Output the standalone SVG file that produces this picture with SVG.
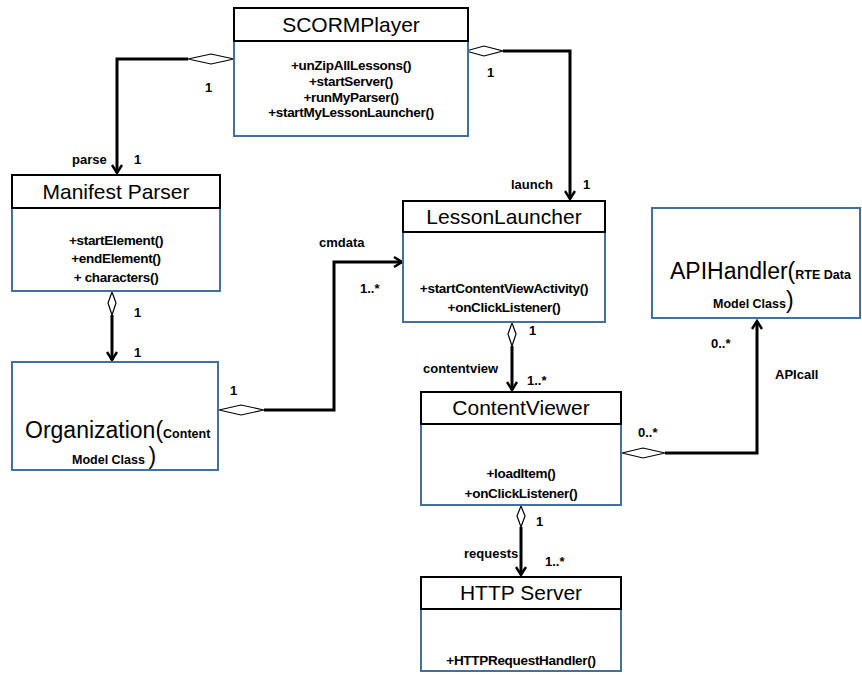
<svg xmlns="http://www.w3.org/2000/svg" width="862" height="675" viewBox="0 0 862 675">
  <defs>
    <marker id="open-arrow" viewBox="0 0 12 12" refX="10" refY="6" markerWidth="12" markerHeight="12" markerUnits="userSpaceOnUse" orient="auto">
      <path d="M2,1 L10,6 L2,11" fill="none" stroke="#000" stroke-width="2.4"/>
    </marker>
  </defs>
  <style>
    .head { fill: #fff; stroke: #000; stroke-width: 2; }
    .body { fill: #fff; stroke: #41719c; stroke-width: 2; }
    .title { font-family: "Liberation Sans", Arial, sans-serif; font-size: 21px; text-anchor: middle; fill: #000; }
    .op { font-family: "Liberation Sans", Arial, sans-serif; font-size: 13.5px; font-weight: bold; text-anchor: middle; fill: #000; letter-spacing: -0.3px; }
    .lbl { font-family: "Liberation Sans", Arial, sans-serif; font-size: 13px; font-weight: bold; fill: #000; }
    .big { font-family: "Liberation Sans", Arial, sans-serif; font-size: 23px; fill: #000; }
    .small { font-family: "Liberation Sans", Arial, sans-serif; font-size: 12.5px; font-weight: bold; fill: #000; }
    .line { fill: none; stroke: #000; stroke-width: 3; }
    .dia { fill: #fff; stroke: #000; stroke-width: 1.2; }
  </style>
  <rect width="862" height="675" fill="#fff"/>

  <!-- connectors -->
  <g id="connectors">
    <!-- SCORMPlayer to Manifest Parser -->
    <path class="line" d="M188,59 H117 V173" marker-end="url(#open-arrow)"/>
    <polygon class="dia" points="234,59 211,64 188,59 211,54"/>
    <text class="lbl" x="205" y="92">1</text>
    <text class="lbl" x="72" y="164">parse</text>
    <text class="lbl" x="134" y="164">1</text>

    <!-- SCORMPlayer to LessonLauncher -->
    <path class="line" d="M503,51 H570 V199" marker-end="url(#open-arrow)"/>
    <polygon class="dia" points="466,51 484,46 503,51 484,56"/>
    <text class="lbl" x="487" y="77">1</text>
    <text class="lbl" x="511" y="189">launch</text>
    <text class="lbl" x="583" y="189">1</text>

    <!-- Manifest Parser to Organization -->
    <path class="line" d="M112,315 V360" marker-end="url(#open-arrow)"/>
    <polygon class="dia" points="112,292 116,303 112,315 108,303"/>
    <text class="lbl" x="134" y="317">1</text>
    <text class="lbl" x="134" y="357">1</text>

    <!-- Organization to LessonLauncher -->
    <path class="line" d="M264,410 H334 V262 H402" marker-end="url(#open-arrow)"/>
    <polygon class="dia" points="219,410 241,405 264,410 241,415"/>
    <text class="lbl" x="230" y="395">1</text>
    <text class="lbl" x="319" y="247">cmdata</text>
    <text class="lbl" x="360" y="293">1..*</text>

    <!-- LessonLauncher to ContentViewer -->
    <path class="line" d="M512,346 V390" marker-end="url(#open-arrow)"/>
    <polygon class="dia" points="512,323 516,334 512,346 508,334"/>
    <text class="lbl" x="529" y="335">1</text>
    <text class="lbl" x="423" y="373">contentview</text>
    <text class="lbl" x="527" y="385">1..*</text>

    <!-- ContentViewer to HTTP Server -->
    <path class="line" d="M521,527 V575" marker-end="url(#open-arrow)"/>
    <polygon class="dia" points="521,506 525,516 521,527 517,516"/>
    <text class="lbl" x="536" y="526">1</text>
    <text class="lbl" x="464" y="558">requests</text>
    <text class="lbl" x="545" y="566">1..*</text>

    <!-- ContentViewer to APIHandler -->
    <path class="line" d="M665,453 H757 V321" marker-end="url(#open-arrow)"/>
    <polygon class="dia" points="622,453 643,448 665,453 643,458"/>
    <text class="lbl" x="638" y="437">0..*</text>
    <text class="lbl" x="711" y="348">0..*</text>
    <text class="lbl" x="775" y="379">APIcall</text>
  </g>

  <!-- SCORMPlayer -->
  <g id="scormplayer">
    <rect class="body" x="234" y="41" width="234" height="95"/>
    <rect class="head" x="234" y="8" width="234" height="33"/>
    <text class="title" x="351" y="32">SCORMPlayer</text>
    <text class="op" x="351" y="70">+unZipAllLessons()</text>
    <text class="op" x="351" y="86">+startServer()</text>
    <text class="op" x="351" y="102">+runMyParser()</text>
    <text class="op" x="351" y="117">+startMyLessonLauncher()</text>
  </g>

  <!-- Manifest Parser -->
  <g id="manifest-parser">
    <rect class="body" x="12" y="208" width="208" height="83"/>
    <rect class="head" x="12" y="175" width="208" height="33"/>
    <text class="title" x="116" y="199">Manifest Parser</text>
    <text class="op" x="116" y="245">+startElement()</text>
    <text class="op" x="116" y="263">+endElement()</text>
    <text class="op" x="116" y="282">+ characters()</text>
  </g>

  <!-- Organization -->
  <g id="organization">
    <rect class="body" x="12" y="362" width="206" height="108"/>
    <text x="25" y="438"><tspan class="big">Organization(</tspan><tspan class="small">Content</tspan></text>
    <text x="72" y="464"><tspan class="small">Model Class </tspan><tspan class="big" font-size="21">)</tspan></text>
  </g>

  <!-- LessonLauncher -->
  <g id="lesson-launcher">
    <rect class="body" x="403" y="232" width="202" height="90"/>
    <rect class="head" x="403" y="201" width="202" height="31"/>
    <text class="title" x="504" y="224">LessonLauncher</text>
    <text class="op" x="504" y="293">+startContentViewActivity()</text>
    <text class="op" x="504" y="312">+onClickListener()</text>
  </g>

  <!-- APIHandler -->
  <g id="api-handler">
    <rect class="body" x="652" y="208" width="208" height="110"/>
    <text x="670" y="279"><tspan class="big">APIHandler(</tspan><tspan class="small" font-size="11.5">RTE Data</tspan></text>
    <text x="713" y="308"><tspan class="small">Model Class</tspan><tspan class="big" font-size="21">)</tspan></text>
  </g>

  <!-- ContentViewer -->
  <g id="content-viewer">
    <rect class="body" x="421" y="424" width="200" height="81"/>
    <rect class="head" x="421" y="392" width="200" height="32"/>
    <text class="title" x="521" y="415">ContentViewer</text>
    <text class="op" x="521" y="478">+loadItem()</text>
    <text class="op" x="521" y="498">+onClickListener()</text>
  </g>

  <!-- HTTP Server -->
  <g id="http-server">
    <rect class="body" x="421" y="609" width="200" height="62"/>
    <rect class="head" x="421" y="577" width="200" height="32"/>
    <text class="title" x="521" y="600">HTTP Server</text>
    <text class="op" x="521" y="665">+HTTPRequestHandler()</text>
  </g>
</svg>
